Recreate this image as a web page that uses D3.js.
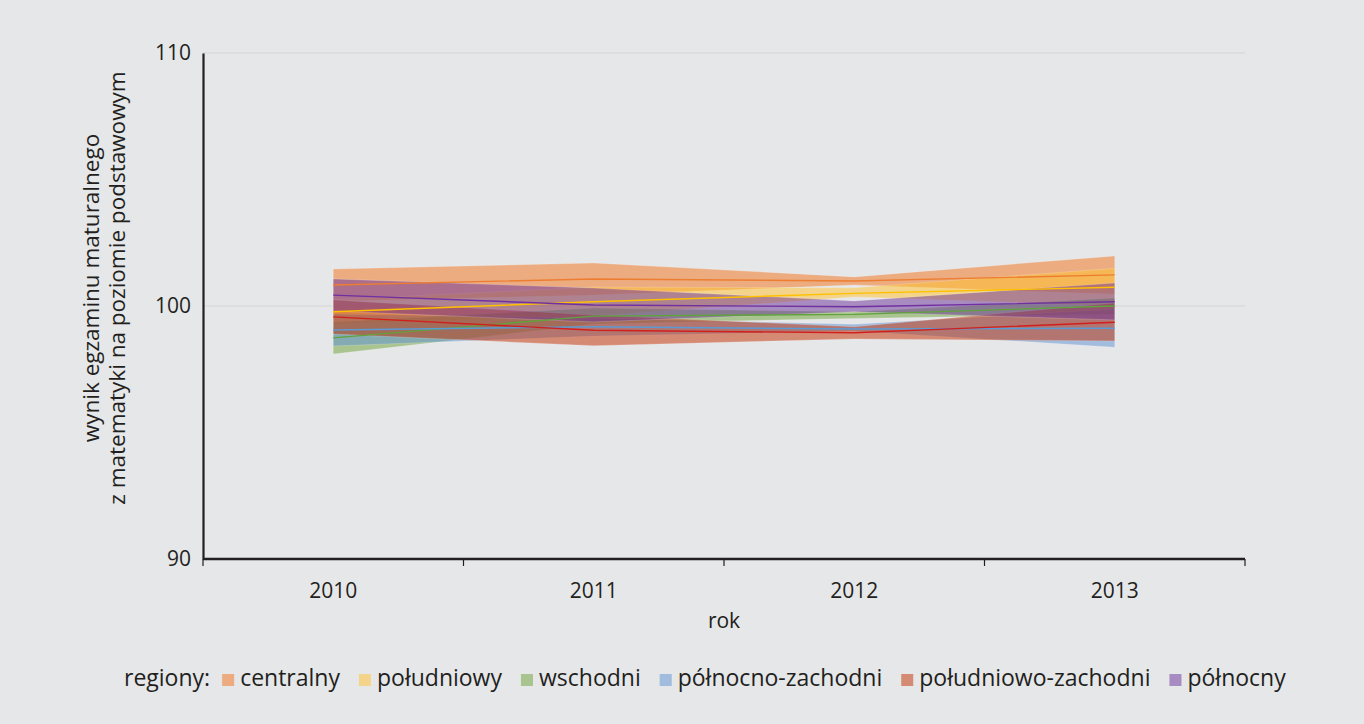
<!DOCTYPE html>
<html>
<head>
<meta charset="utf-8">
<script src="https://cdn.jsdelivr.net/npm/d3@7"></script>
<style>
  html, body { margin: 0; padding: 0; background: #e6e7e9; }
  svg text { font-family: "Open Sans", "Noto Sans", sans-serif; fill: #231f20; }
</style>
</head>
<body>
<svg id="chart" width="1364" height="724"></svg>
<script>
// years on the x axis
var years = ['2010', '2011', '2012', '2013'];
var regions = ['centralny', 'południowy', 'wschodni', 'północno-zachodni', 'południowo-zachodni', 'północny'];

// mean and band (low / high) per region, one value per year
var centralnyMean = [100.83, 101.07, 100.99, 101.23];
var centralnyLow  = [100.20, 100.43, 100.83, 100.47];
var centralnyHigh = [101.46, 101.70, 101.15, 101.98];

var poludniowyMean = [99.77, 100.17, 100.50, 100.74];
var poludniowyLow  = [99.30, 99.60, 100.36, 100.00];
var poludniowyHigh = [100.25, 100.75, 100.72, 101.49];

var wschodniMean = [98.74, 99.60, 99.67, 100.00];
var wschodniLow  = [98.10, 99.29, 99.51, 99.68];
var wschodniHigh = [99.37, 99.92, 99.77, 100.32];

var pnZachMean = [99.05, 99.18, 99.09, 99.12];
var pnZachLow  = [98.42, 98.81, 99.01, 98.37];
var pnZachHigh = [99.68, 99.53, 99.28, 99.88];

var pdZachMean = [99.57, 99.04, 98.94, 99.36];
var pdZachLow  = [98.89, 98.43, 98.70, 98.62];
var pdZachHigh = [100.24, 99.64, 99.18, 100.12];

var polnocnyMean = [100.43, 100.04, 99.97, 100.17];
var polnocnyLow  = [99.80, 99.37, 99.77, 99.45];
var polnocnyHigh = [101.07, 100.71, 100.20, 100.91];

var yTicks = [90, 100, 110];

var bandColors = ['#f27117', '#ffc12b', '#6ca135', '#5e91d3', '#c42d00', '#6a2f97'];
var lineColors = ['#ed7d31', '#ffc000', '#5fa33a', '#5b9bd5', '#d0201e', '#7030a0'];

var series = [
  {mean: centralnyMean, low: centralnyLow, high: centralnyHigh},
  {mean: poludniowyMean, low: poludniowyLow, high: poludniowyHigh},
  {mean: wschodniMean, low: wschodniLow, high: wschodniHigh},
  {mean: pnZachMean, low: pnZachLow, high: pnZachHigh},
  {mean: pdZachMean, low: pdZachLow, high: pdZachHigh},
  {mean: polnocnyMean, low: polnocnyLow, high: polnocnyHigh}
];

var svg = d3.select('#chart');
var margin = {top: 53, right: 119, bottom: 165, left: 203};
var width = 1364 - margin.left - margin.right;
var height = 724 - margin.top - margin.bottom;

var g = svg.append('g')
  .attr('transform', 'translate(' + margin.left + ',' + margin.top + ')');

var xScale = d3.scaleBand().domain(years).range([0, width]);
var yScale = d3.scaleLinear().domain([90, 110]).range([height, 0]);
var xMid = function(yr) { return xScale(yr) + xScale.bandwidth() / 2; };

// grid lines
g.selectAll('.grid')
  .data(yTicks.slice(1))
  .enter().append('line')
  .attr('x1', 0).attr('x2', width)
  .attr('y1', function(d) { return yScale(d); })
  .attr('y2', function(d) { return yScale(d); })
  .attr('stroke', '#d3d5d3').attr('stroke-width', 1);

// bands
var area = d3.area()
  .x(function(d) { return xMid(d.year); })
  .y0(function(d) { return yScale(d.low); })
  .y1(function(d) { return yScale(d.high); });

var line = d3.line()
  .x(function(d) { return xMid(d.year); })
  .y(function(d) { return yScale(d.mean); });

var rows = series.map(function(s) {
  return years.map(function(yr, i) {
    return {year: yr, mean: s.mean[i], low: s.low[i], high: s.high[i]};
  });
});

rows.forEach(function(r, i) {
  g.append('path')
    .datum(r)
    .attr('d', area)
    .attr('fill', bandColors[i])
    .attr('fill-opacity', 0.5)
    .attr('stroke', 'rgba(255,255,255,0.25)')
    .attr('stroke-width', 0.8);
});

rows.forEach(function(r, i) {
  g.append('path')
    .datum(r)
    .attr('d', line)
    .attr('fill', 'none')
    .attr('stroke', lineColors[i])
    .attr('stroke-width', 1.4);
});

// y axis
var yAxis = g.append('g')
  .call(d3.axisLeft(yScale).tickValues(yTicks).tickSize(0).tickPadding(12));
yAxis.select('.domain').attr('stroke', '#231f20').attr('stroke-width', 2.2);
yAxis.selectAll('text').style('font-size', '21px').attr('fill', '#231f20');

// x axis, ticks on band edges
var xAxis = g.append('g').attr('transform', 'translate(0,' + height + ')');
xAxis.append('line')
  .attr('x1', 0).attr('x2', width)
  .attr('stroke', '#231f20').attr('stroke-width', 2.5);
xAxis.selectAll('.tick')
  .data(years.concat(['end']))
  .enter().append('line')
  .attr('x1', function(d) { return d === 'end' ? width : xScale(d); })
  .attr('x2', function(d) { return d === 'end' ? width : xScale(d); })
  .attr('y1', 0).attr('y2', 7)
  .attr('stroke', '#231f20').attr('stroke-width', 1.2);
xAxis.selectAll('.lbl')
  .data(years)
  .enter().append('text')
  .attr('x', function(d) { return xMid(d); })
  .attr('y', 39)
  .attr('text-anchor', 'middle')
  .style('font-size', '21px')
  .text(function(d) { return d; });

g.append('text')
  .attr('x', width / 2).attr('y', height + 69)
  .attr('text-anchor', 'middle')
  .style('font-size', '21px')
  .text('rok');

// y axis title
var yTitle = svg.append('text')
  .attr('transform', 'translate(0,288) rotate(-90)')
  .attr('text-anchor', 'middle')
  .style('font-size', '22.5px');
yTitle.append('tspan').attr('x', 0).attr('y', 99).text('wynik egzaminu maturalnego');
yTitle.append('tspan').attr('x', 0).attr('y', 125).text('z matematyki na poziomie podstawowym');

// legend
var legend = svg.append('g').attr('transform', 'translate(124,686)');
var lx = 0;
var lead = legend.append('text').attr('x', 0).attr('y', 0).style('font-size', '23px').text('regiony:');
lx = lead.node().getComputedTextLength() + 12;
regions.forEach(function(name, i) {
  legend.append('rect')
    .attr('x', lx).attr('y', -12)
    .attr('width', 12).attr('height', 12)
    .attr('fill', bandColors[i]).attr('fill-opacity', 0.5);
  var t = legend.append('text')
    .attr('x', lx + 18).attr('y', 0)
    .style('font-size', '23px')
    .text(name);
  lx += 18 + t.node().getComputedTextLength() + 19;
});
</script>
</body>
</html>
